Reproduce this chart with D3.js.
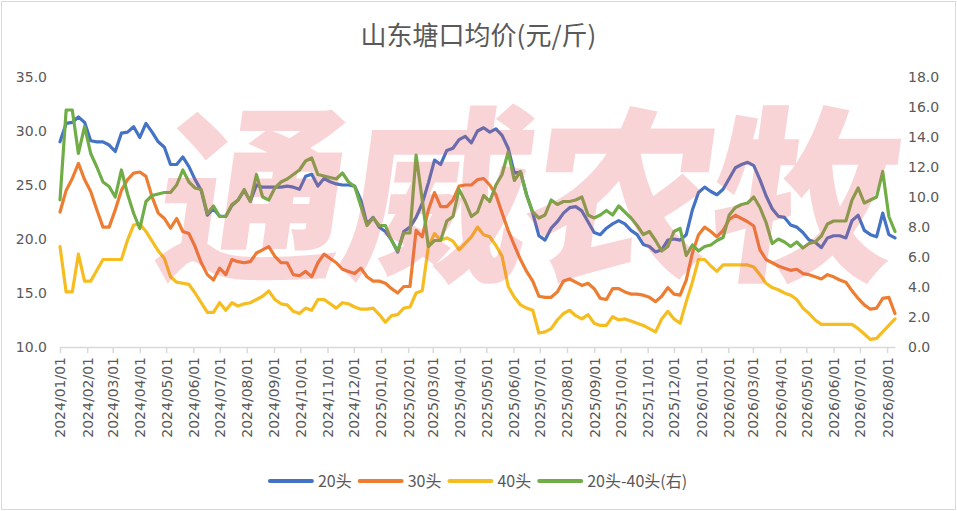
<!DOCTYPE html>
<html>
<head>
<meta charset="utf-8">
<script src="https://cdn.jsdelivr.net/npm/d3@7/dist/d3.min.js"></script>
<style>
  html, body { margin: 0; padding: 0; background: #fff; }
  svg { display: block; }
</style>
</head>
<body>
<svg id="chart"></svg>
<script>
// weekly prices, first week 2024/01/01
const startDate = new Date(2024, 0, 1);
const seriesNames = ['20头', '30头', '40头', '20头-40头(右)'];
const seriesColors = ['#4472c4', '#ed7d31', '#f5bd1f', '#70ad47'];
const leftTicks = [10, 15, 20, 25, 30, 35];
const rightTicks = [0, 2, 4, 6, 8, 10, 12, 14, 16, 18];

const head20 = [
  29.0, 30.7, 30.8, 31.3, 30.8, 29.1, 29.0, 29.0, 28.7, 28.1,
  29.8, 29.9, 30.4, 29.4, 30.7, 29.9, 29.0, 28.5, 26.9, 26.9,
  27.6, 26.7, 25.5, 24.5, 22.2, 22.8, 22.1, 22.1, 23.1, 23.6,
  24.5, 23.5, 25.0, 24.8, 24.8, 24.8, 24.8, 24.9, 24.8, 24.6,
  25.8, 26.0, 24.9, 25.6, 25.3, 25.1, 25.0, 25.0, 24.9, 23.6,
  21.4, 22.0, 21.1, 20.7, 19.9, 18.8, 20.7, 21.1, 22.0, 23.3,
  25.2, 27.3, 26.9, 28.2, 28.4, 29.2, 29.5, 28.9, 30.0, 30.3,
  29.9, 30.2, 29.6, 28.4, 26.1, 26.2, 24.1, 22.4, 20.3, 19.9,
  21.0, 21.6, 22.4, 22.9, 23.0, 22.6, 21.6, 20.6, 20.4, 21.0,
  21.4, 21.7, 21.4, 20.8, 20.4, 19.5, 19.3, 18.8, 19.0, 19.9,
  20.0, 19.9, 20.4, 22.7, 24.3, 24.8, 24.4, 24.1, 24.6, 25.6,
  26.6, 26.9, 27.1, 26.8, 25.5, 24.0, 22.8, 22.1, 22.0, 21.3,
  21.1, 20.6, 19.9, 19.7, 19.2, 20.1, 20.3, 20.3, 20.1, 21.7,
  22.2, 20.8, 20.4, 20.2, 22.4, 20.4, 20.1
];
const head30 = [
  22.5, 24.5, 25.6, 27.0, 25.5, 24.4, 22.7, 21.1, 21.1, 22.7,
  24.5, 25.5, 26.1, 26.2, 25.8, 23.9, 22.4, 21.9, 21.0, 21.9,
  20.7, 20.5, 19.3, 17.8, 16.7, 16.2, 17.3, 16.7, 18.1, 17.9,
  17.8, 17.9, 18.7, 19.0, 19.3, 18.4, 17.8, 17.8, 16.7, 16.6,
  17.0, 16.5, 17.8, 18.6, 18.2, 17.8, 17.2, 17.0, 16.8, 17.3,
  16.5, 16.1, 16.1, 15.9, 15.4, 15.0, 15.6, 15.6, 20.8, 20.2,
  22.7, 24.3, 23.0, 23.0, 23.6, 24.9, 25.0, 25.0, 25.5, 25.6,
  25.0, 24.1, 22.4, 20.8, 19.4, 18.1, 17.0, 16.1, 14.7, 14.6,
  14.6, 15.1, 16.1, 16.3, 16.0, 15.7, 15.9, 15.4, 14.5, 14.4,
  15.4, 15.4, 15.1, 14.9, 14.9, 14.8, 14.6, 14.2, 14.7, 15.5,
  14.9, 14.8, 16.2, 18.7, 20.4, 21.1, 20.7, 20.2, 20.8, 21.8,
  22.2, 21.9, 21.6, 21.2, 19.0, 18.1, 17.8, 17.5, 17.3, 17.1,
  17.2, 16.8, 16.7, 16.5, 16.3, 16.7, 16.5, 16.2, 16.0, 15.2,
  14.5, 13.9, 13.5, 13.6, 14.5, 14.6, 13.1
];
const head40 = [
  19.3, 15.1, 15.1, 18.6, 16.1, 16.1, 17.1, 18.1, 18.1, 18.1,
  18.1, 19.9, 21.3, 21.4, 20.7, 19.8, 18.9, 18.2, 16.5, 16.0,
  15.9, 15.8, 15.0, 14.1, 13.2, 13.2, 14.1, 13.4, 14.1, 13.8,
  14.0, 14.1, 14.4, 14.7, 15.2, 14.4, 14.0, 13.9, 13.3, 13.1,
  13.6, 13.4, 14.4, 14.4, 14.0, 13.6, 14.1, 14.0, 13.7, 13.5,
  13.5, 13.6, 13.0, 12.3, 12.9, 13.0, 13.6, 13.7, 15.0, 15.2,
  19.3, 20.5, 19.9, 20.1, 19.8, 19.0, 19.6, 20.2, 21.1, 20.4,
  20.2, 19.4, 18.4, 15.6, 14.6, 13.9, 13.6, 13.4, 11.3, 11.4,
  11.7, 12.5, 13.1, 13.4, 12.9, 12.6, 13.0, 12.2, 12.0, 12.0,
  12.8, 12.5, 12.6, 12.4, 12.2, 12.0, 11.7, 11.4, 12.6, 13.3,
  12.6, 12.2, 14.2, 16.0, 18.1, 18.1, 17.5, 17.0, 17.6, 17.6,
  17.6, 17.6, 17.6, 17.4, 16.7, 15.9, 15.5, 15.3, 15.0, 14.8,
  14.4, 13.6, 13.1, 12.5, 12.1, 12.1, 12.1, 12.1, 12.1, 12.1,
  11.7, 11.2, 10.7, 10.8, 11.4, 12.0, 12.6
];
const spread = [
  9.8, 15.8, 15.8, 12.9, 14.7, 12.9, 12.0, 11.0, 10.7, 10.0,
  11.8, 10.2, 8.9, 7.9, 9.7, 10.1, 10.2, 10.3, 10.3, 10.8,
  11.8, 11.0, 10.6, 10.5, 8.9, 9.4, 8.7, 8.7, 9.5, 9.8,
  10.5, 9.7, 11.5, 10.0, 9.8, 10.6, 11.0, 11.2, 11.5, 11.8,
  12.4, 12.6, 11.5, 11.4, 11.3, 11.2, 11.6, 11.0, 10.7, 9.4,
  8.1, 8.6, 8.1, 8.1, 7.1, 6.4, 7.6, 7.6, 12.8, 9.8,
  6.7, 7.1, 7.1, 8.4, 8.7, 10.5, 9.7, 8.7, 9.0, 10.1,
  9.7, 10.8, 11.5, 13.0, 11.1, 11.7, 10.1, 9.0, 8.6, 8.8,
  9.8, 9.5, 9.7, 9.7, 9.8, 10.0, 8.8, 8.6, 8.8, 9.1,
  8.8, 9.4, 9.0, 8.6, 8.1, 7.5, 7.7, 7.1, 6.4, 6.7,
  7.7, 7.9, 6.1, 6.8, 6.4, 6.7, 6.8, 7.1, 7.3, 8.8,
  9.3, 9.5, 9.6, 10.0, 9.3, 8.3, 6.9, 7.2, 7.0, 6.7,
  7.0, 6.6, 6.9, 7.0, 7.4, 8.2, 8.4, 8.4, 8.4, 9.8,
  10.6, 9.6, 9.8, 10.0, 11.7, 8.7, 7.7
];

const dates = head20.map((_, i) => d3.timeDay.offset(startDate, i * 7));

const width = 957, height = 511;
const margin = { top: 77, right: 62, bottom: 164, left: 60 };

const svg = d3.select('#chart').attr('width', width).attr('height', height);

// outer frame
svg.append('rect')
  .attr('x', 1.5).attr('y', 1.5)
  .attr('width', width - 3).attr('height', height - 3)
  .attr('fill', '#fff').attr('stroke', '#d9d9d9');

const x = d3.scaleTime()
  .domain([startDate, dates[dates.length - 1]])
  .range([margin.left, width - margin.right]);
const yLeft = d3.scaleLinear().domain([10, 35]).range([height - margin.bottom, margin.top]);
const yRight = d3.scaleLinear().domain([0, 18]).range([height - margin.bottom, margin.top]);

const textColor = '#595959';
const font = '"DejaVu Sans", sans-serif';

// title
svg.append('text')
  .attr('x', width / 2).attr('y', 45)
  .attr('text-anchor', 'middle')
  .attr('font-family', '"Noto Sans CJK SC", sans-serif')
  .attr('font-size', 26)
  .attr('fill', textColor)
  .text('山东塘口均价(元/斤)');

// left axis
const gLeft = svg.append('g')
  .attr('transform', `translate(${margin.left},0)`)
  .call(d3.axisLeft(yLeft).tickValues(leftTicks).tickFormat(d3.format('.1f')).tickSize(0).tickPadding(13));
gLeft.select('.domain').remove();
gLeft.selectAll('text').attr('font-family', font).attr('font-size', 14).attr('fill', textColor);

// right axis
const gRight = svg.append('g')
  .attr('transform', `translate(${width - margin.right},0)`)
  .call(d3.axisRight(yRight).tickValues(rightTicks).tickFormat(d3.format('.1f')).tickSize(0).tickPadding(13));
gRight.select('.domain').remove();
gRight.selectAll('text').attr('font-family', font).attr('font-size', 14).attr('fill', textColor);

// bottom axis
const gBottom = svg.append('g')
  .attr('transform', `translate(0,${height - margin.bottom})`)
  .call(d3.axisBottom(x).ticks(d3.timeMonth.every(1)).tickFormat(d3.timeFormat('%Y/%m/%d')).tickSize(6).tickSizeOuter(0));
gBottom.select('.domain').attr('stroke', '#d9d9d9').attr('stroke-width', 1.5);
gBottom.selectAll('.tick line').attr('stroke', '#d9d9d9').attr('stroke-width', 1.5);
gBottom.selectAll('text')
  .attr('font-family', font).attr('font-size', 14).attr('fill', textColor)
  .attr('text-anchor', 'end')
  .attr('transform', 'translate(0,10) rotate(-90)')
  .attr('x', 0).attr('y', 0).attr('dy', '0.35em');

// lines
const lineLeft = d3.line().x((d, i) => x(dates[i])).y(d => yLeft(d));
const lineRight = d3.line().x((d, i) => x(dates[i])).y(d => yRight(d));
const plotted = [
  { values: head20, line: lineLeft },
  { values: head30, line: lineLeft },
  { values: head40, line: lineLeft },
  { values: spread, line: lineRight }
];
svg.append('g').selectAll('path')
  .data(plotted)
  .join('path')
  .attr('d', d => d.line(d.values))
  .attr('fill', 'none')
  .attr('stroke', (d, i) => seriesColors[i])
  .attr('stroke-width', 3.2)
  .attr('stroke-linejoin', 'round')
  .attr('stroke-linecap', 'round');

// watermark over the lines
svg.append('text')
  .attr('x', 522).attr('y', 266)
  .attr('text-anchor', 'middle')
  .attr('font-family', '"Noto Sans CJK SC", sans-serif')
  .attr('font-weight', 900)
  .attr('font-size', 188)
  .attr('letter-spacing', -4)
  .attr('fill', '#e65a64')
  .attr('fill-opacity', 0.26)
  .attr('transform', 'skewX(-8) translate(34,0)')
  .text('通威农牧');

// legend
const legend = svg.append('g').attr('transform', `translate(0,481)`);
const items = legend.selectAll('g').data(seriesNames).join('g');
items.append('line')
  .attr('x1', 0).attr('x2', 42).attr('y1', 0).attr('y2', 0)
  .attr('stroke', (d, i) => seriesColors[i])
  .attr('stroke-width', 4)
  .attr('stroke-linecap', 'round');
items.append('text')
  .attr('x', 48).attr('y', 0).attr('dy', '0.35em')
  .attr('font-family', '"Noto Sans CJK SC", sans-serif')
  .attr('font-size', 16)
  .attr('fill', textColor)
  .text(d => d);
let widths = [];
items.each(function() { widths.push(this.getBBox().width); });
const gap = 8;
const total = d3.sum(widths) + gap * (widths.length - 1);
let cur = width / 2 - total / 2;
items.attr('transform', (d, i) => {
  const t = `translate(${cur},0)`;
  cur += widths[i] + gap;
  return t;
});
</script>
</body>
</html>
